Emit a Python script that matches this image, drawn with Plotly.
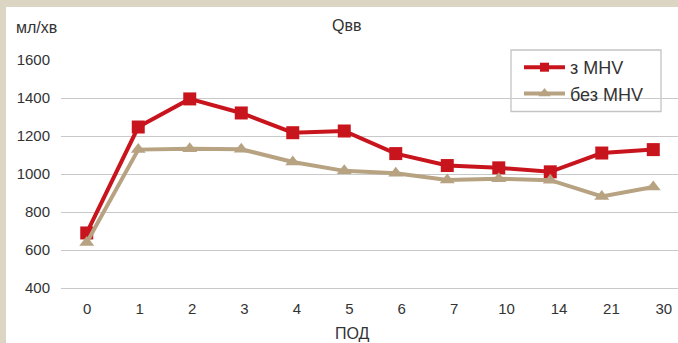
import plotly.graph_objects as go

# Days after surgery (category labels) and flow values, ml/min
days = ["0", "1", "2", "3", "4", "5", "6", "7", "10", "14", "21", "30"]
with_mhv = [690, 1248, 1396, 1322, 1218, 1227, 1108, 1045, 1033, 1012, 1111, 1129]
without_mhv = [640, 1129, 1133, 1131, 1064, 1017, 1004, 969, 976, 968, 882, 932]
y_ticks = [400, 600, 800, 1000, 1200, 1400, 1600]

W, H = 678, 343
L, R, T, B = 61, 0, 60, 55
PW, PH = W - L - R, H - T - B

RED = "#C8151D"
TAN = "#B7A281"
BEIGE = "#DDD5C3"
GRID = "#C9C9C9"
TXT = "#333333"
FONT = "Liberation Sans, Arial, sans-serif"


def px_x(p):
    return (p - L) / PW


def px_y(p):
    return (H - B - p) / PH


fig = go.Figure()
fig.add_trace(go.Scatter(
    x=days, y=with_mhv, name="з MHV", mode="lines+markers",
    line=dict(color=RED, width=4),
    marker=dict(symbol="square", size=13, color=RED),
    showlegend=False, cliponaxis=False,
))
fig.add_trace(go.Scatter(
    x=days, y=without_mhv, name="без MHV", mode="lines+markers",
    line=dict(color=TAN, width=4),
    marker=dict(symbol="triangle-up", size=13, color=TAN),
    showlegend=False, cliponaxis=False,
))
# legend entries with smaller symbols
fig.add_trace(go.Scatter(
    x=[None], y=[None], name="з MHV", mode="lines+markers",
    line=dict(color=RED, width=4),
    marker=dict(symbol="square", size=9, color=RED),
    legendgroup="a",
))
fig.add_trace(go.Scatter(
    x=[None], y=[None], name="без MHV", mode="lines+markers",
    line=dict(color=TAN, width=4),
    marker=dict(symbol="triangle-up", size=11, color=TAN),
    legendgroup="b",
))
# category labels on a bottom overlay axis
fig.add_trace(go.Scatter(
    x=days, y=[None] * len(days), xaxis="x2", mode="markers",
    showlegend=False, hoverinfo="skip",
))

fig.update_layout(
    width=W, height=H,
    margin=dict(l=L, r=R, t=T, b=B, pad=0),
    paper_bgcolor="white", plot_bgcolor="white",
    font=dict(family=FONT, size=15, color=TXT),
    title=dict(text="Qвв", x=346.7 / W, xanchor="center",
               y=1 - 25 / H, yanchor="middle",
               font=dict(size=16, color=TXT)),
    xaxis=dict(
        type="category", categoryorder="array", categoryarray=days,
        range=[-0.5, 11.48], showgrid=False, zeroline=False,
        showline=True, linecolor=GRID, linewidth=1.3,
        ticks="", showticklabels=False,
    ),
    xaxis2=dict(
        type="category", categoryorder="array", categoryarray=days,
        range=[-0.5, 11.27], overlaying="x", anchor="y", side="bottom",
        showgrid=False, zeroline=False, showline=False,
        ticks="", ticklabelstandoff=10, tickfont=dict(size=15),
    ),
    yaxis=dict(
        range=[400, 1601], tickvals=y_ticks, showgrid=True,
        gridcolor=GRID, gridwidth=1.3, zeroline=False, showline=False,
        ticks="", ticklabelstandoff=10, tickfont=dict(size=15),
    ),
    showlegend=True,
    legend=dict(
        x=px_x(519), y=px_y(49), xanchor="left", yanchor="top",
        bgcolor="rgba(0,0,0,0)", borderwidth=0,
        font=dict(size=18, color=TXT), itemwidth=41,
        tracegroupgap=0,
    ),
    shapes=[
        # beige frame strips along the top and left edges
        dict(type="rect", xref="paper", yref="paper",
             x0=px_x(0), x1=px_x(W), y0=px_y(0), y1=px_y(7),
             fillcolor=BEIGE, line=dict(width=0), layer="above"),
        dict(type="rect", xref="paper", yref="paper",
             x0=px_x(0), x1=px_x(6), y0=px_y(0), y1=px_y(H),
             fillcolor=BEIGE, line=dict(width=0), layer="above"),
        # legend box
        dict(type="rect", xref="paper", yref="paper",
             x0=px_x(511), x1=px_x(661), y0=px_y(50), y1=px_y(111.5),
             fillcolor="white", line=dict(color="#C4C4C4", width=1.3),
             layer="below"),
    ],
    annotations=[
        dict(text="мл/хв", x=px_x(36), y=px_y(27), xref="paper", yref="paper",
             showarrow=False, xanchor="center", yanchor="middle",
             font=dict(size=16, color=TXT)),
        dict(text="ПОД", x=px_x(352), y=px_y(333), xref="paper", yref="paper",
             showarrow=False, xanchor="center", yanchor="middle",
             font=dict(size=16, color=TXT)),
    ],
)

fig.write_html("out.html")
